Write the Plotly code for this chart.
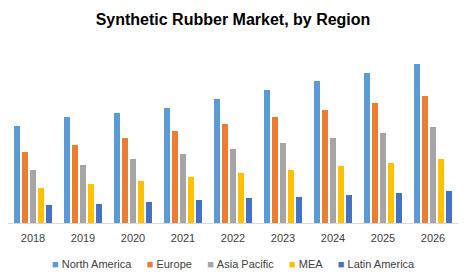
import plotly.graph_objects as go

years = ["2018", "2019", "2020", "2021", "2022", "2023", "2024", "2025", "2026"]
north_america = [97, 106, 110, 115, 124, 133, 142, 150, 159]
europe = [71, 78, 85, 92, 99, 106, 113, 120, 127]
asia_pacific = [53, 58, 64, 69, 74, 80, 85, 90, 96]
mea = [35, 39, 42, 46, 50, 53, 57, 60, 64]
latin_america = [18, 19, 21, 23, 25, 26, 28, 30, 32]

series = [
    ("North America", north_america, "#5B9BD5"),
    ("Europe", europe, "#ED7D31"),
    ("Asia Pacific", asia_pacific, "#A5A5A5"),
    ("MEA", mea, "#FFC000"),
    ("Latin America", latin_america, "#4472C4"),
]

fig = go.Figure()
for name, vals, color in series:
    fig.add_trace(go.Bar(x=years, y=vals, name=name, marker=dict(color=color, line=dict(width=0)),
                         showlegend=False))

nb = "\u00a0"
legend_text = (nb * 5).join(
    f"<span style='color:{c}'>■</span>{nb}{n}" for n, _, c in series
)

H, T, B = 275, 58, 52
plot_h = H - T - B

fig.update_layout(
    width=466, height=H,
    margin=dict(l=8, r=8, t=T, b=B),
    paper_bgcolor="white", plot_bgcolor="white",
    barmode="group", bargap=0.2, bargroupgap=0.25,
    title=dict(text="<b>Synthetic Rubber Market, by Region</b>", x=0.5, xanchor="center",
               y=1 - 19 / H, yanchor="middle", yref="container",
               font=dict(family="Liberation Sans, Arial", size=16, color="#000000")),
    font=dict(family="Liberation Sans, Arial", size=11, color="#404040"),
    xaxis=dict(showline=True, linecolor="#D9D9D9", linewidth=1, ticks="", showgrid=False,
               ticklabelstandoff=5, tickfont=dict(size=11, color="#404040")),
    yaxis=dict(visible=False, range=[0, 165], showgrid=False, zeroline=False),
    annotations=[dict(text=legend_text, xref="paper", yref="paper", x=0.5,
                      y=-(264 - (H - B)) / plot_h,
                      xanchor="center", yanchor="middle", showarrow=False,
                      font=dict(size=11, color="#404040"))],
)

fig.write_html("out.html")
